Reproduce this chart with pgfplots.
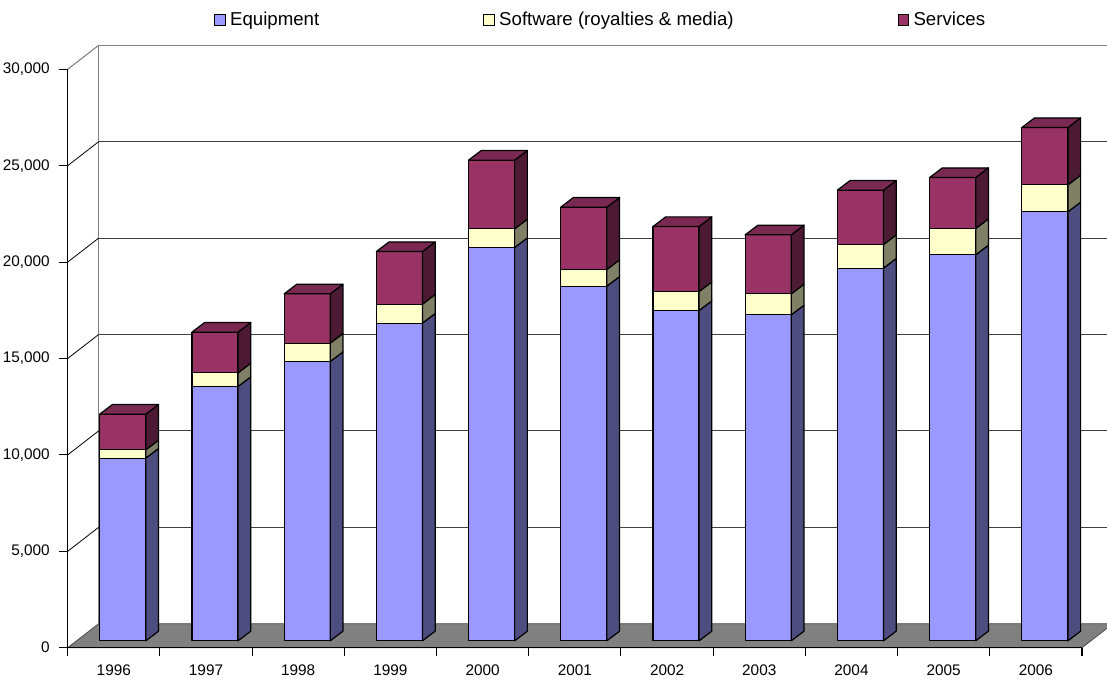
\documentclass[border=0pt]{standalone}
\usepackage{pgfplots}
\usepackage{pgfplotstable}
\pgfplotsset{compat=1.18}
\usepackage{fontspec}
\setmainfont{Liberation Sans}

\definecolor{eqF}{RGB}{153,153,255}
\definecolor{eqS}{RGB}{77,77,128}
\definecolor{swF}{RGB}{255,255,204}
\definecolor{swS}{RGB}{128,128,102}
\definecolor{svF}{RGB}{153,51,102}
\definecolor{svS}{RGB}{77,26,51}
\definecolor{svT}{RGB}{122,41,82}
\definecolor{floorC}{RGB}{128,128,128}
\definecolor{wallC}{RGB}{128,128,128}

% values
\pgfplotstableread{
year eq sw sv
1996 9476 431 1851
1997 13190 710 2111
1998 14487 954 2557
1999 16478 986 2728
2000 20400 969 3564
2001 18397 861 3237
2002 17132 985 3372
2003 16909 1089 3060
2004 19331 1224 2821
2005 20021 1364 2645
2006 22251 1400 2972
}\datatable

% geometry of the 3-D effect (axis units)
\def\fdx{0.097}   % bar front offset x
\def\fdy{355}     % bar front offset y
\def\bdx{0.138}   % bar depth x
\def\bdy{500}     % bar depth y
\def\hw{0.25}     % half bar width

\newcommand\seg[4]{%
  \edef\lo{#3}\edef\hi{#4}%
  \edef\lob{\fpeval{#3+\bdy}}\edef\hib{\fpeval{#4+\bdy}}%
  \edef\temp{%
    \noexpand\addplot[fill=#1,draw=black,line width=0.9pt,line join=round,forget plot]
      coordinates {(\xL,\lo) (\xR,\lo) (\xR,\hi) (\xL,\hi)} -- cycle;
    \noexpand\addplot[fill=#2,draw=black,line width=0.9pt,line join=round,forget plot]
      coordinates {(\xR,\lo) (\xRb,\lob) (\xRb,\hib) (\xR,\hi)} -- cycle;}%
  \temp}

\begin{document}
\begin{tikzpicture}
\useasboundingbox (-50.775pt,-24.225pt) rectangle (779.475pt,485.775pt);
\clip (-50.775pt,-24.225pt) rectangle (779.475pt,485.775pt);
\begin{axis}[
  scale only axis, width=760.725pt, height=433.8pt,
  xmin=-0.5, xmax=10.5, ymin=0, ymax=30000,
  clip=false, axis on top,
  axis lines*=left,
  axis line style={black, line width=0.8pt},
  xtick={-0.5,0.5,...,10.5},
  x tick label as interval,
  xticklabels={1996,1997,1998,1999,2000,2001,2002,2003,2004,2005,2006},
  ytick={0,5000,10000,15000,20000,25000,30000},
  scaled y ticks=false,
  tick align=outside, major tick length=6.5pt,
  tick style={black, line width=0.8pt},
  /pgf/number format/assume math mode=true,
  /pgf/number format/1000 sep={,},
  tick label style={font=\fontsize{11.5}{13}\selectfont},
  yticklabel style={xshift=-3.5pt},
  xticklabel style={yshift=-3pt},
  legend columns=3,
  legend image code/.code={\draw[#1,draw=black,line width=0.6pt] (0pt,-4.1pt) rectangle (7.8pt,4.1pt);},
  legend style={draw=none, fill=none, at={(0.1442,1.0852)}, anchor=west,
    inner sep=0pt, font=\fontsize{14}{16}\selectfont,
    column sep=2.5pt,
    /tikz/every even column/.append style={column sep=122pt},
    nodes={inner sep=1pt}},
]
% back wall frame and gridlines
\addplot[wallC, line width=0.8pt, forget plot] coordinates {(-0.164,1245) (-0.164,31245) (10.95,31245)};
\addplot[wallC, line width=0.8pt, forget plot] coordinates {(-0.5,30000) (-0.164,31245)};
\addplot[black!75, line width=0.75pt, forget plot] coordinates {(-0.164,6245) (10.95,6245)};
\addplot[black!75, line width=0.75pt, forget plot] coordinates {(-0.164,11245) (10.95,11245)};
\addplot[black!75, line width=0.75pt, forget plot] coordinates {(-0.164,16245) (10.95,16245)};
\addplot[black!75, line width=0.75pt, forget plot] coordinates {(-0.164,21245) (10.95,21245)};
\addplot[black!75, line width=0.75pt, forget plot] coordinates {(-0.164,26245) (10.95,26245)};
\addplot[black, line width=0.6pt, forget plot] coordinates {(-0.5,5000) (-0.164,6245)};
\addplot[black, line width=0.6pt, forget plot] coordinates {(-0.5,10000) (-0.164,11245)};
\addplot[black, line width=0.6pt, forget plot] coordinates {(-0.5,15000) (-0.164,16245)};
\addplot[black, line width=0.6pt, forget plot] coordinates {(-0.5,20000) (-0.164,21245)};
\addplot[black, line width=0.6pt, forget plot] coordinates {(-0.5,25000) (-0.164,26245)};
% floor
\addplot[fill=floorC, draw=black!70, line width=0.6pt, forget plot]
  coordinates {(-0.5,0) (10.5,0) (10.836,1245) (-0.164,1245)} -- cycle;
% bars
\pgfplotsforeachungrouped \i in {0,...,10}{%
  \pgfplotstablegetelem{\i}{eq}\of\datatable \let\vEq\pgfplotsretval
  \pgfplotstablegetelem{\i}{sw}\of\datatable \let\vSw\pgfplotsretval
  \pgfplotstablegetelem{\i}{sv}\of\datatable \let\vSv\pgfplotsretval
  \edef\xL{\fpeval{\i-\hw+\fdx}}%
  \edef\xR{\fpeval{\i+\hw+\fdx}}%
  \edef\xLb{\fpeval{\xL+\bdx}}%
  \edef\xRb{\fpeval{\xR+\bdx}}%
  \edef\yA{\fdy}%
  \edef\yB{\fpeval{\fdy+\vEq}}%
  \edef\yC{\fpeval{\yB+\vSw}}%
  \edef\yD{\fpeval{\yC+\vSv}}%
  \edef\yDb{\fpeval{\yD+\bdy}}%
  \seg{eqF}{eqS}{\yA}{\yB}%
  \seg{swF}{swS}{\yB}{\yC}%
  \seg{svF}{svS}{\yC}{\yD}%
  \edef\temp{\noexpand\addplot[fill=svT,draw=black,line width=0.9pt,line join=round,forget plot]
      coordinates {(\xL,\yD) (\xR,\yD) (\xRb,\yDb) (\xLb,\yDb)} -- cycle;}%
  \temp
}
\addlegendimage{fill=eqF}\addlegendentry{Equipment}
\addlegendimage{fill=swF}\addlegendentry{Software (royalties \& media)}
\addlegendimage{fill=svF}\addlegendentry{Services}
\end{axis}
\end{tikzpicture}
\end{document}
